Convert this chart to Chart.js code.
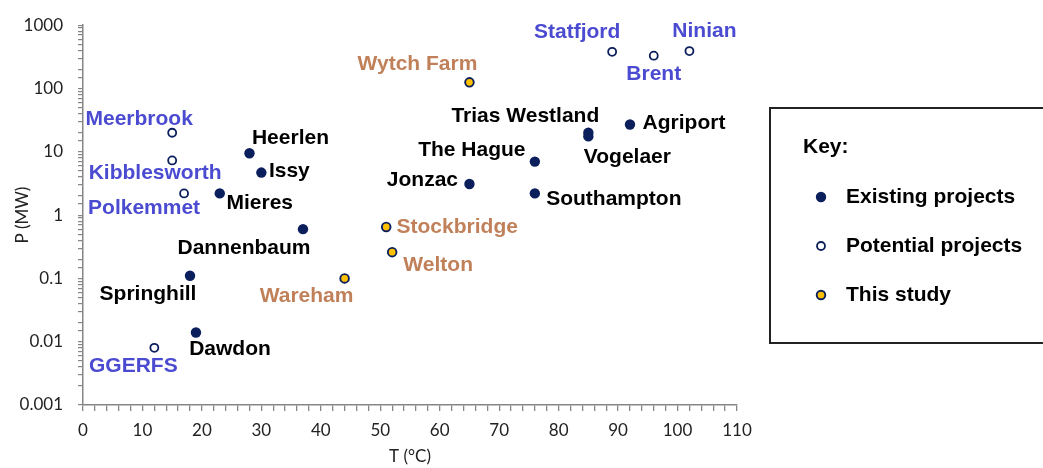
<!doctype html>
<html>

<head>
    <script src="https://cdn.jsdelivr.net/npm/chart.js@4.4.1/dist/chart.umd.min.js"></script>
    <style>
        body {
            margin: 0;
            background: #fff;
        }

        .wrap {
            width: 1043px;
            height: 468px;
            position: relative;
        }
    </style>
    <script>
        // existing projects
        const existingNames = ['Heerlen', 'Issy', 'Mieres', 'Dannenbaum', 'Springhill', 'Dawdon', 'Trias Westland', 'Vogelaer', 'Agriport', 'The Hague', 'Jonzac', 'Southampton'];
        const existingT = [28, 30, 23, 37, 18, 19, 85, 85, 92, 76, 65, 76];
        const existingP = [9.5, 4.7, 2.2, 0.6, 0.11, 0.014, 20, 17.5, 27, 7, 3.1, 2.2];

        // potential projects
        const potentialNames = ['Meerbrook', 'Kibblesworth', 'Polkemmet', 'GGERFS', 'Statfjord', 'Brent', 'Ninian'];
        const potentialT = [15, 15, 17, 12, 89, 96, 102];
        const potentialP = [20, 7.3, 2.2, 0.008, 380, 330, 390];

        // this study
        const studyNames = ['Wytch Farm', 'Stockbridge', 'Welton', 'Wareham'];
        const studyT = [65, 51, 52, 44];
        const studyP = [125, 0.65, 0.26, 0.1];

        const keyLabels = ['Existing projects', 'Potential projects', 'This study'];

        // where each name sits relative to its point (px)
        const labelOffset = {
            'Heerlen': [41, -15], 'Issy': [28, -1], 'Mieres': [40, 10], 'Dannenbaum': [-59, 19],
            'Springhill': [-42, 18], 'Dawdon': [34, 17], 'Trias Westland': [-63, -17], 'Vogelaer': [39, 21],
            'Agriport': [54, -1], 'The Hague': [-63, -11], 'Jonzac': [-47, -4], 'Southampton': [79, 6],
            'Meerbrook': [-33, -14], 'Kibblesworth': [-17, 13], 'Polkemmet': [-40, 15], 'GGERFS': [-21, 18],
            'Statfjord': [-35, -20], 'Brent': [0, 19], 'Ninian': [15, -20],
            'Wytch Farm': [-52, -18], 'Stockbridge': [71, 0], 'Welton': [46, 13], 'Wareham': [-38, 18]
        };

        const navy = '#0b1f5c';

        function pts(xs, ys) {
            return xs.map((x, i) => ({ x: x, y: ys[i] }));
        }

        const pointLabels = {
            id: 'pointLabels',
            afterDatasetsDraw(chart) {
                const ctx = chart.ctx;
                ctx.save();
                ctx.font = 'bold 21px "Liberation Sans", Arial, sans-serif';
                ctx.textAlign = 'center';
                ctx.textBaseline = 'middle';
                chart.data.datasets.forEach((ds, di) => {
                    const meta = chart.getDatasetMeta(di);
                    ctx.fillStyle = ds.labelColor;
                    meta.data.forEach((el, i) => {
                        const name = ds.names[i];
                        const off = labelOffset[name] || [0, 0];
                        ctx.fillText(name, el.x + off[0], el.y + off[1]);
                    });
                });
                ctx.restore();
            }
        };

        const keyBox = {
            id: 'keyBox',
            afterDraw(chart) {
                const ctx = chart.ctx;
                ctx.save();
                ctx.strokeStyle = '#222';
                ctx.lineWidth = 2;
                ctx.strokeRect(770, 108, 290, 235);
                ctx.fillStyle = '#000';
                ctx.font = 'bold 21px "Liberation Sans", Arial, sans-serif';
                ctx.textBaseline = 'middle';
                ctx.textAlign = 'left';
                ctx.fillText('Key:', 803, 147);
                const rows = [197, 246, 295];
                chart.data.datasets.forEach((ds, i) => {
                    ctx.beginPath();
                    ctx.arc(821, rows[i], ds.pointRadius, 0, Math.PI * 2);
                    ctx.fillStyle = ds.backgroundColor;
                    ctx.fill();
                    if (ds.borderWidth) {
                        ctx.lineWidth = ds.borderWidth;
                        ctx.strokeStyle = ds.borderColor;
                        ctx.stroke();
                    }
                    ctx.fillStyle = '#000';
                    ctx.fillText(keyLabels[i], 846, rows[i]);
                });
                ctx.restore();
            }
        };

        function logLabel(v) {
            const e = Math.log10(v);
            const r = Math.round(e);
            if (Math.abs(e - r) > 1e-6) return '';
            return r >= 0 ? String(Math.pow(10, r)) : Math.pow(10, r).toFixed(-r);
        }

        const tickFont = { family: 'Lato, "Liberation Sans", sans-serif', size: 17 };
        const axisGrey = '#868686';

        const config = {
            type: 'scatter',
            data: {
                datasets: [
                    {
                        label: keyLabels[0],
                        names: existingNames,
                        data: pts(existingT, existingP),
                        backgroundColor: navy,
                        borderColor: navy,
                        borderWidth: 0,
                        pointRadius: 5.2,
                        labelColor: '#000'
                    },
                    {
                        label: keyLabels[1],
                        names: potentialNames,
                        data: pts(potentialT, potentialP),
                        backgroundColor: '#fff',
                        borderColor: navy,
                        borderWidth: 1.8,
                        pointRadius: 4,
                        labelColor: '#4b4bd2'
                    },
                    {
                        label: keyLabels[2],
                        names: studyNames,
                        data: pts(studyT, studyP),
                        backgroundColor: '#ffc000',
                        borderColor: navy,
                        borderWidth: 1.9,
                        pointRadius: 4.3,
                        labelColor: '#c0815a'
                    }
                ]
            },
            options: {
                responsive: true,
                maintainAspectRatio: false,
                animation: false,
                layout: {
                    padding: { top: 24, right: 306, bottom: 0, left: 0 }
                },
                plugins: {
                    legend: { display: false },
                    tooltip: { enabled: false }
                },
                scales: {
                    x: {
                        type: 'linear',
                        min: 0,
                        max: 110,
                        afterFit: (s) => { s.height = 63; },
                        ticks: {
                            stepSize: 2,
                            autoSkip: false,
                            maxRotation: 0,
                            padding: 9,
                            color: '#222',
                            font: tickFont,
                            callback: (v) => (v % 10 === 0 ? String(v) : '')
                        },
                        grid: {
                            drawOnChartArea: false,
                            tickLength: 6,
                            color: axisGrey,
                            lineWidth: 1.3
                        },
                        border: { color: axisGrey, width: 1.5 },
                        title: {
                            display: true,
                            text: 'T (°C)',
                            color: '#222',
                            font: tickFont,
                            padding: { top: 0, bottom: 1 }
                        }
                    },
                    y: {
                        type: 'logarithmic',
                        min: 0.001,
                        max: 1000,
                        afterFit: (s) => { s.width = 83; },
                        ticks: {
                            autoSkip: false,
                            padding: 15,
                            color: '#222',
                            font: tickFont,
                            callback: (v) => logLabel(v)
                        },
                        grid: {
                            drawOnChartArea: false,
                            tickLength: 5,
                            color: axisGrey,
                            lineWidth: 1.2
                        },
                        border: { color: axisGrey, width: 1.5 },
                        title: {
                            display: true,
                            text: 'P (MW)',
                            color: '#222',
                            font: tickFont,
                            padding: { top: 12, bottom: 0 }
                        }
                    }
                }
            },
            plugins: [pointLabels, keyBox]
        };
    </script>
</head>

<body style="font-family:arial, sans-serif">
    <div class="wrap">
        <canvas id="chart"></canvas>
    </div>
</body>
<script>
const ctx = document.getElementById('chart').getContext('2d');
const chart = new Chart(ctx, config);
</script>

</html>
